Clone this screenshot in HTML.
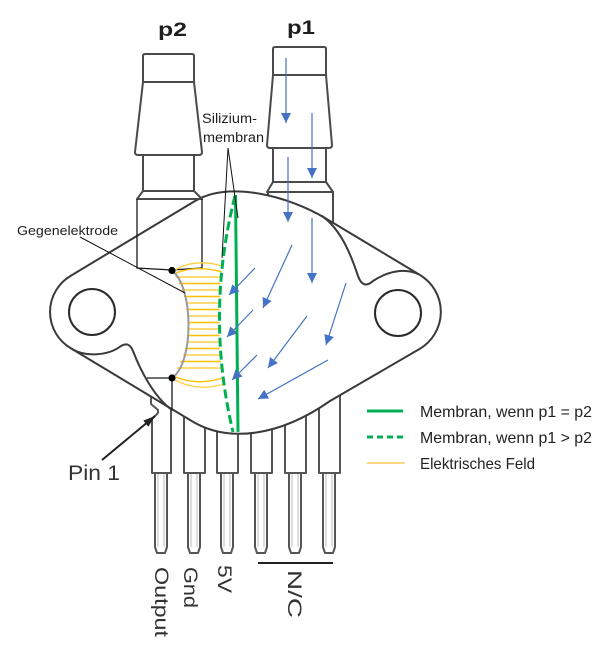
<!DOCTYPE html>
<html>
<head>
<meta charset="utf-8">
<style>
  html,body{margin:0;padding:0;background:#fff;}
  svg{display:block;}
  text{font-family:"Liberation Sans", Arial, sans-serif;}
</style>
</head>
<body>
<svg width="600" height="645" viewBox="0 0 600 645" xmlns="http://www.w3.org/2000/svg">
  <defs>
    <marker id="ab" markerUnits="userSpaceOnUse" markerWidth="11" markerHeight="11" refX="10" refY="5" orient="auto">
      <path d="M0,0 L10,5 L0,10 Z" fill="#4472c4"/>
    </marker>
    <marker id="ak" markerUnits="userSpaceOnUse" markerWidth="13" markerHeight="9" refX="12" refY="4" orient="auto">
      <path d="M0,0 L12,4 L0,8 Z" fill="#222"/>
    </marker>
  </defs>
  <rect width="600" height="645" fill="#fff"/>

  <!-- Pins -->
  <g fill="none" stroke="#555" stroke-width="2" stroke-linejoin="round">
    <path d="M151,370 L151,404 L158,410 L158,413 L152,419 L152,473 L171,473 L171,370"/>
    <rect x="184" y="370" width="21" height="103"/>
    <rect x="217" y="370" width="21" height="103"/>
    <rect x="251" y="370" width="21" height="103"/>
    <rect x="285" y="370" width="21" height="103"/>
    <rect x="319" y="370" width="21" height="103"/>
    <path d="M155,473 L155,547 L157,553 L165,553 L167,547 L167,473"/>
    <path d="M188,473 L188,547 L190,553 L198,553 L200,547 L200,473"/>
    <path d="M221,473 L221,547 L223,553 L231,553 L233,547 L233,473"/>
    <path d="M255,473 L255,547 L257,553 L265,553 L267,547 L267,473"/>
    <path d="M289,473 L289,547 L291,553 L299,553 L301,547 L301,473"/>
    <path d="M323,473 L323,547 L325,553 L333,553 L335,547 L335,473"/>
  </g>
  <g stroke="#bbb" stroke-width="1">
    <line x1="158" y1="474" x2="158" y2="547"/><line x1="164" y1="474" x2="164" y2="547"/>
    <line x1="191" y1="474" x2="191" y2="547"/><line x1="197" y1="474" x2="197" y2="547"/>
    <line x1="224" y1="474" x2="224" y2="547"/><line x1="230" y1="474" x2="230" y2="547"/>
    <line x1="258" y1="474" x2="258" y2="547"/><line x1="264" y1="474" x2="264" y2="547"/>
    <line x1="292" y1="474" x2="292" y2="547"/><line x1="298" y1="474" x2="298" y2="547"/>
    <line x1="326" y1="474" x2="326" y2="547"/><line x1="332" y1="474" x2="332" y2="547"/>
  </g>

  <!-- p1 nozzle (behind body) -->
  <g fill="#fff" stroke="#4a4a4a" stroke-width="2" stroke-linejoin="round">
    <path d="M268,192 L268,235 L333,235 L333,192 Z"/>
    <path d="M273,182 L267,192 L333,192 L326,182 Z"/>
    <path d="M273,148 L273,182 L326,182 L326,148 Z"/>
    <path d="M273,75 L267,145 Q267,148 270,148 L329,148 Q332,148 332,145 L326,75 Z"/>
    <path d="M273,75 L273,49 Q273,47 275,47 L324,47 Q326,47 326,49 L326,75 Z"/>
  </g>

  <!-- Body -->
  <path d="M70.4,276 L195,201 C230,180 290,197 325,218 L420,275 A43,43 0 0 1 419.5,349 L330,401 C280,436 228,444 190,420 L70.4,348 A42,42 0 0 1 70.4,276 Z"
        fill="#fff" stroke="#3a3a3a" stroke-width="2" stroke-linejoin="round"/>
  <!-- notch curves -->
  <g fill="none" stroke="#3a3a3a" stroke-width="2" stroke-linecap="round">
    <path d="M322,216 C342,230 352,258 358,276 Q363,290 373,281 C388,271 405,268 418,274"/>
    <path d="M72,349 C85,357 108,356 121,346 Q129,341 133,351 C141,372 155,398 172,410"/>
  </g>
  <!-- holes -->
  <circle cx="92" cy="312" r="23" fill="none" stroke="#2a2a2a" stroke-width="2"/>
  <circle cx="398" cy="313" r="23" fill="none" stroke="#2a2a2a" stroke-width="2"/>

  <!-- p2 nozzle -->
  <g fill="none" stroke="#4a4a4a" stroke-width="2" stroke-linejoin="round">
    <path d="M143,82 L143,56 Q143,54 145,54 L192,54 Q194,54 194,56 L194,82 Z"/>
    <path d="M143,82 L135,152 Q135,155 138,155 L199,155 Q202,155 202,152 L194,82"/>
    <path d="M143,155 L143,191 L194,191 L194,155"/>
    <path d="M143,191 L137,199 L202,199 L194,191"/>
  </g>
  <!-- wires -->
  <g fill="none" stroke="#1a1a1a" stroke-width="1.3">
    <path d="M137,199 L137,268 L172,270"/>
    <path d="M202,199 L202,268 L172,270"/>
    <path d="M147,378 L172,378 L172,410"/>
  </g>

  <!-- electric field -->
  <g fill="none" stroke-width="1.4">
    <path d="M175,270 Q195,258 222,266" stroke="#ffcf40"/>
    <path d="M176,273 Q197,265 222,272" stroke="#ffc000"/>
    <line x1="175.5" y1="277" x2="221" y2="277" stroke="#ffcf40"/>
    <line x1="178.9" y1="283.5" x2="220.5" y2="283.5" stroke="#ffc000"/>
    <line x1="181.7" y1="290" x2="220" y2="290" stroke="#ffcf40"/>
    <line x1="184.1" y1="296.5" x2="220" y2="296.5" stroke="#ffc000"/>
    <line x1="185.9" y1="303" x2="219.5" y2="303" stroke="#ffcf40"/>
    <line x1="187.3" y1="309.5" x2="219.5" y2="309.5" stroke="#ffc000"/>
    <line x1="188.1" y1="316" x2="219.5" y2="316" stroke="#ffcf40"/>
    <line x1="188.5" y1="322.5" x2="219.5" y2="322.5" stroke="#ffc000"/>
    <line x1="188.4" y1="329" x2="219.5" y2="329" stroke="#ffcf40"/>
    <line x1="187.7" y1="335.5" x2="219.5" y2="335.5" stroke="#ffc000"/>
    <line x1="186.6" y1="342" x2="220" y2="342" stroke="#ffcf40"/>
    <line x1="185" y1="348.5" x2="220" y2="348.5" stroke="#ffc000"/>
    <line x1="182.9" y1="355" x2="220.5" y2="355" stroke="#ffcf40"/>
    <line x1="180.2" y1="361.5" x2="221" y2="361.5" stroke="#ffc000"/>
    <line x1="177.1" y1="368" x2="222" y2="368" stroke="#ffcf40"/>
    <path d="M176,377 Q197,386 223,378" stroke="#ffc000"/>
    <path d="M175,380 Q197,392 224,384" stroke="#ffcf40"/>
  </g>
  <!-- electrode -->
  <path d="M172,271 C193,285 195,362 172,378" fill="none" stroke="#9a9a9a" stroke-width="2"/>
  <circle cx="172" cy="270.5" r="3.6" fill="#000"/>
  <circle cx="172" cy="378" r="3.6" fill="#000"/>

  <!-- membranes -->
  <path d="M235,196 Q205,314 233,432" fill="none" stroke="#00b050" stroke-width="3" stroke-dasharray="9 4"/>
  <line x1="235.5" y1="195" x2="238" y2="432" stroke="#00b050" stroke-width="3"/>

  <!-- leader lines -->
  <g stroke="#111" stroke-width="1" fill="none">
    <line x1="228" y1="148" x2="222" y2="258"/>
    <line x1="228" y1="148" x2="238" y2="218"/>
    <line x1="80" y1="237" x2="185" y2="293"/>
  </g>

  <!-- blue arrows -->
  <g stroke="#4472c4" stroke-width="1.2" fill="none" marker-end="url(#ab)">
    <line x1="286" y1="58" x2="286" y2="123"/>
    <line x1="312" y1="113" x2="312" y2="178"/>
    <line x1="288" y1="157" x2="288" y2="222"/>
    <line x1="312" y1="218" x2="312" y2="283"/>
    <line x1="292" y1="245" x2="263" y2="308"/>
    <line x1="255" y1="268" x2="229" y2="295"/>
    <line x1="346" y1="283" x2="326" y2="345"/>
    <line x1="253" y1="310" x2="227" y2="337"/>
    <line x1="307" y1="316" x2="268" y2="368"/>
    <line x1="257" y1="355" x2="232" y2="380"/>
    <line x1="328" y1="360" x2="258" y2="399"/>
  </g>

  <!-- Pin 1 arrow -->
  <line x1="102" y1="460" x2="155" y2="416" stroke="#222" stroke-width="2" marker-end="url(#ak)"/>

  <!-- N/C bracket -->
  <line x1="258" y1="563" x2="333" y2="563" stroke="#222" stroke-width="2"/>

  <!-- Labels -->
  <g fill="#1e1e1e">
    <text x="158" y="36" font-size="19" font-weight="bold" textLength="29" lengthAdjust="spacingAndGlyphs">p2</text>
    <text x="287" y="34" font-size="19" font-weight="bold" textLength="28" lengthAdjust="spacingAndGlyphs">p1</text>
    <text x="202" y="123" font-size="13.5" textLength="55" lengthAdjust="spacingAndGlyphs">Silizium-</text>
    <text x="203" y="142" font-size="13.5" textLength="61" lengthAdjust="spacingAndGlyphs">membran</text>
    <text x="17" y="235" font-size="13" textLength="101" lengthAdjust="spacingAndGlyphs">Gegenelektrode</text>
  </g>
  <text x="68" y="480" font-size="21" fill="#333" textLength="52" lengthAdjust="spacingAndGlyphs">Pin 1</text>

  <g fill="#333" font-size="19">
    <text transform="translate(155,567) rotate(90)" textLength="70" lengthAdjust="spacingAndGlyphs">Output</text>
    <text transform="translate(184,567) rotate(90)" textLength="41" lengthAdjust="spacingAndGlyphs">Gnd</text>
    <text transform="translate(218,565) rotate(90)" textLength="28" lengthAdjust="spacingAndGlyphs">5V</text>
    <text transform="translate(288,570) rotate(90)" textLength="48" lengthAdjust="spacingAndGlyphs">N/C</text>
  </g>

  <!-- Legend -->
  <line x1="367" y1="411" x2="403" y2="411" stroke="#00b050" stroke-width="3"/>
  <line x1="367" y1="437" x2="403" y2="437" stroke="#00b050" stroke-width="3" stroke-dasharray="6 4"/>
  <line x1="367" y1="463" x2="405" y2="463" stroke="#f5c03a" stroke-width="1.3"/>
  <g fill="#222" font-size="16">
    <text x="420" y="417" textLength="172" lengthAdjust="spacingAndGlyphs">Membran, wenn p1 = p2</text>
    <text x="420" y="443" textLength="172" lengthAdjust="spacingAndGlyphs">Membran, wenn p1 &gt; p2</text>
    <text x="420" y="469" textLength="115" lengthAdjust="spacingAndGlyphs">Elektrisches Feld</text>
  </g>
</svg>
</body>
</html>
